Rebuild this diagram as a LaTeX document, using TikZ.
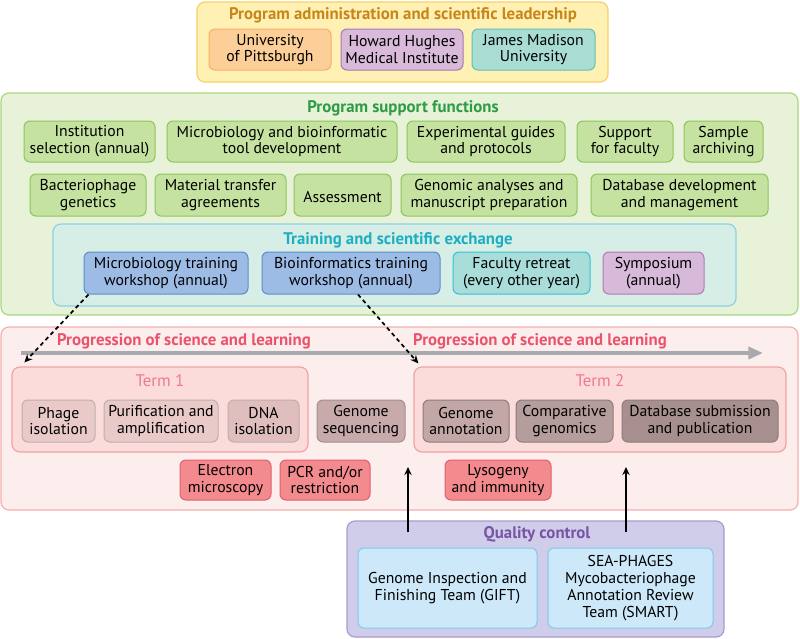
\documentclass[tikz,border=0pt]{standalone}
\usepackage{fontspec}
\setmainfont{PT Sans}
\usetikzlibrary{calc,arrows.meta}

\definecolor{adminbg}{HTML}{FFF1B3}
\definecolor{adminln}{HTML}{F8D066}
\definecolor{admintx}{HTML}{C8861A}
\definecolor{pittbg}{HTML}{FDCF98}
\definecolor{pittln}{HTML}{F6AE6A}
\definecolor{hhmibg}{HTML}{D9BADB}
\definecolor{hhmiln}{HTML}{A67AAE}
\definecolor{jmubg}{HTML}{A9DCD2}
\definecolor{jmuln}{HTML}{66BFB3}
\definecolor{supbg}{HTML}{E7F2D9}
\definecolor{supln}{HTML}{A9D77F}
\definecolor{suptx}{HTML}{2D9C44}
\definecolor{greenbg}{HTML}{C6E2A1}
\definecolor{greenln}{HTML}{8CC55C}
\definecolor{trainbg}{HTML}{D7EEE6}
\definecolor{trainln}{HTML}{8AD2E6}
\definecolor{traintx}{HTML}{1DAEC3}
\definecolor{bluebg}{HTML}{9DBCE5}
\definecolor{blueln}{HTML}{5B8CCB}
\definecolor{retreatbg}{HTML}{A8DDDA}
\definecolor{retreatln}{HTML}{35C1D3}
\definecolor{sympobg}{HTML}{D7B9DA}
\definecolor{sympoln}{HTML}{B27BB6}
\definecolor{progbg}{HTML}{FDEEEE}
\definecolor{progln}{HTML}{F5AFAF}
\definecolor{progtx}{HTML}{E9536B}
\definecolor{termbg}{HTML}{FBDCDA}
\definecolor{termln}{HTML}{F3A2A2}
\definecolor{termtx}{HTML}{F07A8C}
\definecolor{tonebg}{HTML}{E9CAC9}
\definecolor{toneln}{HTML}{BFAEAE}
\definecolor{dnabg}{HTML}{E0BEBE}
\definecolor{seqbg}{HTML}{C8AAAA}
\definecolor{seqln}{HTML}{A38F8F}
\definecolor{annotbg}{HTML}{C3A7A7}
\definecolor{comparbg}{HTML}{B59D9D}
\definecolor{dbsubbg}{HTML}{A88F8F}
\definecolor{ttwoln}{HTML}{8C7C7C}
\definecolor{redbg}{HTML}{F38A8E}
\definecolor{redln}{HTML}{E05F6E}
\definecolor{arrowgray}{HTML}{A8AAAD}
\definecolor{qcbg}{HTML}{CFCDEA}
\definecolor{qcln}{HTML}{A99BCC}
\definecolor{qctx}{HTML}{7853A6}
\definecolor{teambg}{HTML}{CCE8F9}
\definecolor{teamln}{HTML}{80C9EF}

\newcommand\cellfont{\fontsize{11.8}{12.6}\selectfont}

\tikzset{
    cell/.style={draw, line width=0.75pt, rounded corners=4.5pt, inner sep=0pt, align=center, font=\cellfont,
        execute at begin node=\rule{0pt}{0.95em}},
    panel/.style={draw, line width=0.9pt, rounded corners=6pt, inner sep=0pt},
    head/.style={font=\fontsize{12.6}{13}\selectfont\bfseries, inner sep=0pt},
    termhead/.style={font=\fontsize{12.6}{13}\selectfont, text=termtx, inner sep=0pt},
    % box spanning pixel corners (x1,y1) to (x2,y2)
    spans/.style n args={4}{minimum width={(#3-#1)*0.75pt}, minimum height={(#4-#2)*0.75pt},
        at={({(#1+#3)/2},{(#2+#4)/2})}},
    dasharrow/.style={line width=1.3pt, dash pattern=on 3pt off 2.5pt, -{Stealth[length=6pt,width=5.5pt]}},
    uparrow/.style={line width=1.3pt, -{Stealth[length=6pt,width=5.5pt]}},
}

\begin{document}
\begin{tikzpicture}[x=0.75pt,y=-0.75pt]
    \useasboundingbox (0,0) rectangle (800,639);

    % administration
    \node[panel, fill=adminbg, draw=adminln, spans={197}{2}{608}{82}] (admin) {};
    \node[head, text=admintx] (admintitle) at (403,15) {Program administration and scientific leadership};
    \node[cell, fill=pittbg, draw=pittln, spans={209}{29}{331}{70}] (pitt) {University\\of Pittsburgh};
    \node[cell, fill=hhmibg, draw=hhmiln, spans={341}{29}{463}{70}] (hhmi) {Howard Hughes\\Medical Institute};
    \node[cell, fill=jmubg, draw=jmuln, spans={472}{29}{595}{70}] (jmu) {James Madison\\University};

    % support functions
    \node[panel, fill=supbg, draw=supln, spans={1}{93}{798}{315}] (support) {};
    \node[head, text=suptx] (suptitle) at (403,108) {Program support functions};
    \node[cell, fill=greenbg, draw=greenln, spans={24}{121}{155}{162}] (inst) {Institution\\selection (annual)};
    \node[cell, fill=greenbg, draw=greenln, spans={167}{121}{397}{162}] (tool) {Microbiology and bioinformatic\\tool development};
    \node[cell, fill=greenbg, draw=greenln, spans={407}{121}{565}{162}] (guide) {Experimental guides\\and protocols};
    \node[cell, fill=greenbg, draw=greenln, spans={577}{121}{673}{162}] (faculty) {Support\\for faculty};
    \node[cell, fill=greenbg, draw=greenln, spans={684}{121}{763}{162}] (archive) {Sample\\archiving};
    \node[cell, fill=greenbg, draw=greenln, spans={30}{174}{146}{216}] (genetics) {Bacteriophage\\genetics};
    \node[cell, fill=greenbg, draw=greenln, spans={155}{174}{286}{216}] (mta) {Material transfer\\agreements};
    \node[cell, fill=greenbg, draw=greenln, spans={294}{174}{391}{216}] (assess) {Assessment};
    \node[cell, fill=greenbg, draw=greenln, spans={401}{174}{577}{216}] (analyses) {Genomic analyses and\\manuscript preparation};
    \node[cell, fill=greenbg, draw=greenln, spans={591}{174}{768}{216}] (database) {Database development\\and management};

    % training
    \node[panel, fill=trainbg, draw=trainln, spans={53}{224}{736}{306}] (training) {};
    \node[head, text=traintx] (traintitle) at (398,240) {Training and scientific exchange};
    \node[cell, fill=bluebg, draw=blueln, spans={84}{252}{248}{294}] (mbtrain) {Microbiology training\\workshop (annual)};
    \node[cell, fill=bluebg, draw=blueln, spans={262}{252}{440}{294}] (bitrain) {Bioinformatics training\\workshop (annual)};
    \node[cell, fill=retreatbg, draw=retreatln, spans={453}{252}{590}{294}] (retreat) {Faculty retreat\\(every other year)};
    \node[cell, fill=sympobg, draw=sympoln, spans={603}{252}{704}{294}] (sympo) {Symposium\\(annual)};

    % progression
    \node[panel, fill=progbg, draw=progln, spans={1}{327}{798}{510}] (progress) {};
    \node[head, text=progtx] (progleft) at (184,341) {Progression of science and learning};
    \node[head, text=progtx] (progright) at (540,341) {Progression of science and learning};
    \coordinate (progstart) at (21,353);
    \coordinate (progend) at (763,353);
    \draw[arrowgray, line width=3pt, -{Triangle[length=11pt,width=9pt]}] (progstart) -- (progend);

    \node[panel, fill=termbg, draw=termln, spans={12}{367}{308}{452}] (term1) {};
    \node[termhead] (termonetitle) at (160,381) {Term 1};
    \node[cell, fill=tonebg, draw=toneln, spans={22}{400}{95}{442}] (phage) {Phage\\isolation};
    \node[cell, fill=tonebg, draw=toneln, spans={104}{400}{218}{442}] (purif) {Purification and\\amplification};
    \node[cell, fill=dnabg, draw=toneln, spans={228}{400}{299}{442}] (dna) {DNA\\isolation};
    \node[cell, fill=seqbg, draw=seqln, spans={317}{400}{405}{442}] (seq) {Genome\\sequencing};

    \node[panel, fill=termbg, draw=termln, spans={414}{367}{786}{452}] (term2) {};
    \node[termhead] (termtwotitle) at (600,381) {Term 2};
    \node[cell, fill=annotbg, draw=ttwoln, spans={423}{400}{509}{442}] (annot) {Genome\\annotation};
    \node[cell, fill=comparbg, draw=ttwoln, spans={516}{400}{613}{442}] (compar) {Comparative\\genomics};
    \node[cell, fill=dbsubbg, draw=ttwoln, spans={622}{400}{778}{442}] (dbsub) {Database submission\\and publication};

    \node[cell, fill=redbg, draw=redln, spans={180}{460}{271}{500}] (em) {Electron\\microscopy};
    \node[cell, fill=redbg, draw=redln, spans={280}{460}{370}{500}] (pcr) {PCR and/or\\restriction};
    \node[cell, fill=redbg, draw=redln, spans={445}{460}{551}{500}] (lyso) {Lysogeny\\and immunity};

    % quality control
    \node[panel, fill=qcbg, draw=qcln, spans={347}{521}{724}{637}] (qc) {};
    \node[head, text=qctx] (qctitle) at (537,534) {Quality control};
    \node[cell, fill=teambg, draw=teamln, spans={358}{548}{537}{628}] (gift) {Genome Inspection and\\Finishing Team (GIFT)};
    \node[cell, fill=teambg, draw=teamln, spans={548}{548}{713}{628}] (smart) {SEA-PHAGES\\Mycobacteriophage\\Annotation Review\\Team (SMART)};

    % connectors
    \draw[dasharrow] ($(mbtrain.south west)+(5,0)$) -- ($(term1.north west)+(13,-4)$);
    \draw[dasharrow] ($(bitrain.south)+(7,0)$) -- ($(term2.north west)+(5,-3)$);
    \coordinate (gifttip) at (408,467);
    \coordinate (smarttip) at (626,467);
    \draw[uparrow] ([yshift=-9pt]qc.north -| gifttip) -- (gifttip);
    \draw[uparrow] ([yshift=-9pt]qc.north -| smarttip) -- (smarttip);
\end{tikzpicture}
\end{document}
